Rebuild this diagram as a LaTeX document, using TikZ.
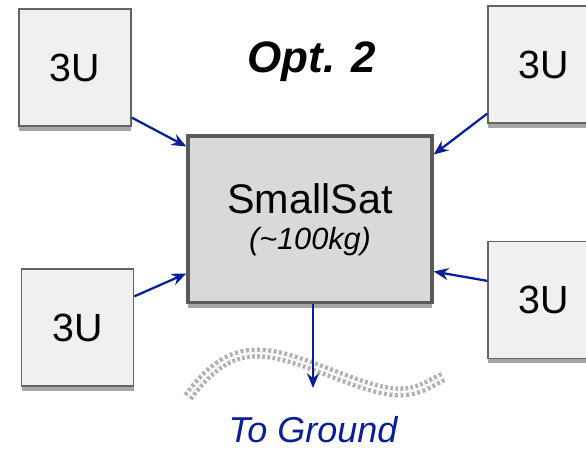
\documentclass[tikz,border=0pt]{standalone}
\usepackage{fontspec}
\setmainfont{Liberation Sans}
\usetikzlibrary{arrows.meta,calc,shadows}
\definecolor{linkblue}{RGB}{10,30,150}
\definecolor{cubefill}{RGB}{240,240,240}
\definecolor{satfill}{RGB}{217,217,217}
\definecolor{edgegray}{RGB}{100,100,100}
\begin{document}
\begin{tikzpicture}[x=0.75pt,y=-0.75pt,
    cube/.style={draw=edgegray, line width=1.2pt, fill=cubefill, inner sep=0pt,
        minimum width=84pt, minimum height=87.5pt, font=\fontsize{29.5}{32}\selectfont,
        drop shadow={shadow xshift=0pt, shadow yshift=-3.8pt, fill=gray!70, opacity=1}},
    link/.style={-{Stealth[length=11pt,width=9pt]}, line width=1.7pt, draw=linkblue}]
        \useasboundingbox (0,0) rectangle (586,449);

        % Satelity
        \node[draw=edgegray!90!black, line width=2.5pt, fill=satfill, inner sep=0pt,
            minimum width=183pt, minimum height=125pt, align=center,
            drop shadow={shadow xshift=0pt, shadow yshift=-4pt, fill=gray!70, opacity=1}]
            (sat) at (310,219.5) {{\fontsize{31}{34}\selectfont SmallSat}\\[9pt]
            {\fontsize{23}{26}\selectfont\itshape (\textasciitilde100kg)}};
        \node[cube] (tl) at (75,67.5) {3U};
        \node[cube] (tr) at (544,64.5) {3U};
        \node[cube] (bl) at (77.5,327.5) {3U};
        \node[cube] (br) at (544,300) {3U};

        \node[font=\fontsize{33}{36}\selectfont\bfseries\itshape] (opt) at (312,62) {Opt. 2};

        % Droga do ziemi
        \draw[gray!60, line width=3.3pt, double=white, double distance=1.7pt,
            dash pattern=on 2.2pt off 1.8pt]
            (188,397) .. controls (212,365) and (232,353) .. (257,353)
            .. controls (300,353) and (360,392) .. (400,392)
            .. controls (420,392) and (432,382) .. (445,376);
        \coordinate (gnd) at (313,388);
        \node[font=\fontsize{27}{30}\selectfont\itshape, text=linkblue] (ground) at (313,430) {To Ground};

        % Połączenia
        \draw[link] ($(tl.south east)+(0,-9)$) -- ($(sat.north west)+(0,12)$);
        \draw[link] ($(tr.south west)+(0,-10)$) -- ($(sat.north east)+(0,20)$);
        \draw[link] ($(bl.north east)+(0,28)$) -- ($(sat.south west)+(0,-31)$);
        \draw[link] ($(br.north west)+(0,40)$) -- ($(sat.south east)+(0,-33)$);
        \draw[link] ($(sat.south)+(3,0)$) -- (gnd);

    \end{tikzpicture}
\end{document}
